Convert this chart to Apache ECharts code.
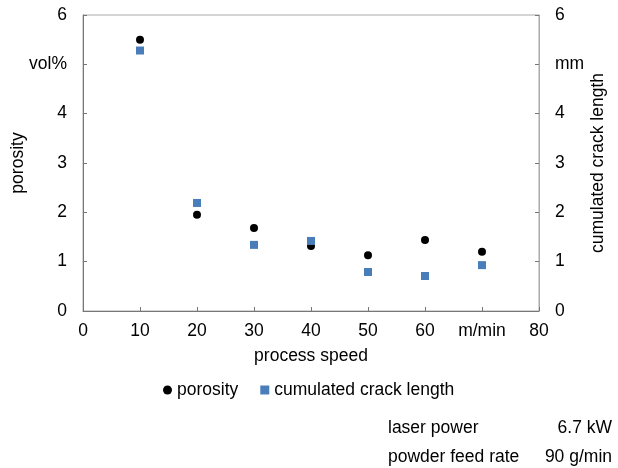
<!DOCTYPE html>
<html><head><meta charset="utf-8">
<script src="https://cdn.jsdelivr.net/npm/echarts@6/dist/echarts.min.js"></script>
<style>html,body{margin:0;padding:0;background:#fff}#c{width:618px;height:468px}</style>
</head><body><div id="c"></div>
<script>
var speeds = [10, 20, 30, 40, 50, 60, 70];
var porosity = [5.5, 1.95, 1.68, 1.32, 1.13, 1.44, 1.2];
var crackLength = [5.28, 2.19, 1.34, 1.42, 0.79, 0.71, 0.93];
var xUnitLabel = 'm/min';
var leftUnitLabel = 'vol%';
var rightUnitLabel = 'mm';

var F = 'Liberation Sans, Arial, sans-serif';
var FS = 17.5;
var chart = echarts.init(document.getElementById('c'), null, {renderer: 'canvas'});
chart.setOption({
  animation: false,
  textStyle: {fontFamily: F},
  grid: {left: 83, right: 79, top: 15, bottom: 157, show: true, borderColor: '#aaa', borderWidth: 1,
    containLabel: false, outerBoundsMode: 'none'},
  legend: {
    left: 158, top: 376, itemWidth: 9, itemHeight: 9, itemGap: 22,
    textStyle: {fontFamily: F, fontSize: FS, color: '#000'},
    data: [{name: 'porosity', icon: 'circle'}, {name: 'cumulated crack length', icon: 'rect'}]
  },
  xAxis: {
    type: 'value', min: 0, max: 80, interval: 10,
    name: 'process speed', nameLocation: 'middle', nameGap: 36, nameMoveOverlap: false,
    nameTextStyle: {fontFamily: F, fontSize: FS, color: '#000'},
    axisLine: {lineStyle: {color: '#777'}},
    axisTick: {inside: true, length: 4, lineStyle: {color: '#777'}},
    splitLine: {show: false},
    axisLabel: {fontFamily: F, fontSize: FS, color: '#000', margin: 11,
      formatter: function (v) { return v === 70 ? xUnitLabel : String(v); }}
  },
  yAxis: [{
    type: 'value', min: 0, max: 6, interval: 1, position: 'left',
    name: 'porosity', nameLocation: 'middle', nameGap: 56, nameRotate: 90, nameMoveOverlap: false,
    nameTextStyle: {fontFamily: F, fontSize: FS, color: '#000'},
    axisLine: {show: true, lineStyle: {color: '#777'}},
    axisTick: {show: true, inside: true, length: 4, lineStyle: {color: '#777'}},
    splitLine: {show: false},
    axisLabel: {fontFamily: F, fontSize: FS, color: '#000', margin: 16,
      formatter: function (v) { return v === 5 ? leftUnitLabel : String(v); }}
  }, {
    type: 'value', min: 0, max: 6, interval: 1, position: 'right',
    name: 'cumulated crack length', nameLocation: 'middle', nameGap: 50, nameRotate: 90, nameMoveOverlap: false,
    nameTextStyle: {fontFamily: F, fontSize: FS, color: '#000'},
    axisLine: {show: true, lineStyle: {color: '#aaa'}},
    axisTick: {show: true, inside: true, length: 4, lineStyle: {color: '#777'}},
    splitLine: {show: false},
    axisLabel: {fontFamily: F, fontSize: FS, color: '#000', margin: 16,
      formatter: function (v) { return v === 5 ? rightUnitLabel : String(v); }}
  }],
  series: [{
    name: 'porosity', type: 'scatter', yAxisIndex: 0, symbol: 'circle', symbolSize: 8,
    itemStyle: {color: '#000', opacity: 1},
    data: speeds.map(function (s, i) { return [s, porosity[i]]; })
  }, {
    name: 'cumulated crack length', type: 'scatter', yAxisIndex: 1, symbol: 'rect', symbolSize: 8,
    itemStyle: {color: '#4a7ebb', opacity: 1},
    data: speeds.map(function (s, i) { return [s, crackLength[i]]; })
  }],
  graphic: [
    {type: 'text', left: 388, top: 419, style: {text: 'laser power', font: FS + 'px ' + F, fill: '#000'}},
    {type: 'text', right: 6, top: 419, style: {text: '6.7 kW', font: FS + 'px ' + F, fill: '#000'}},
    {type: 'text', left: 388, top: 448, style: {text: 'powder feed rate', font: FS + 'px ' + F, fill: '#000'}},
    {type: 'text', right: 6, top: 448, style: {text: '90 g/min', font: FS + 'px ' + F, fill: '#000'}}
  ]
});
</script></body></html>
